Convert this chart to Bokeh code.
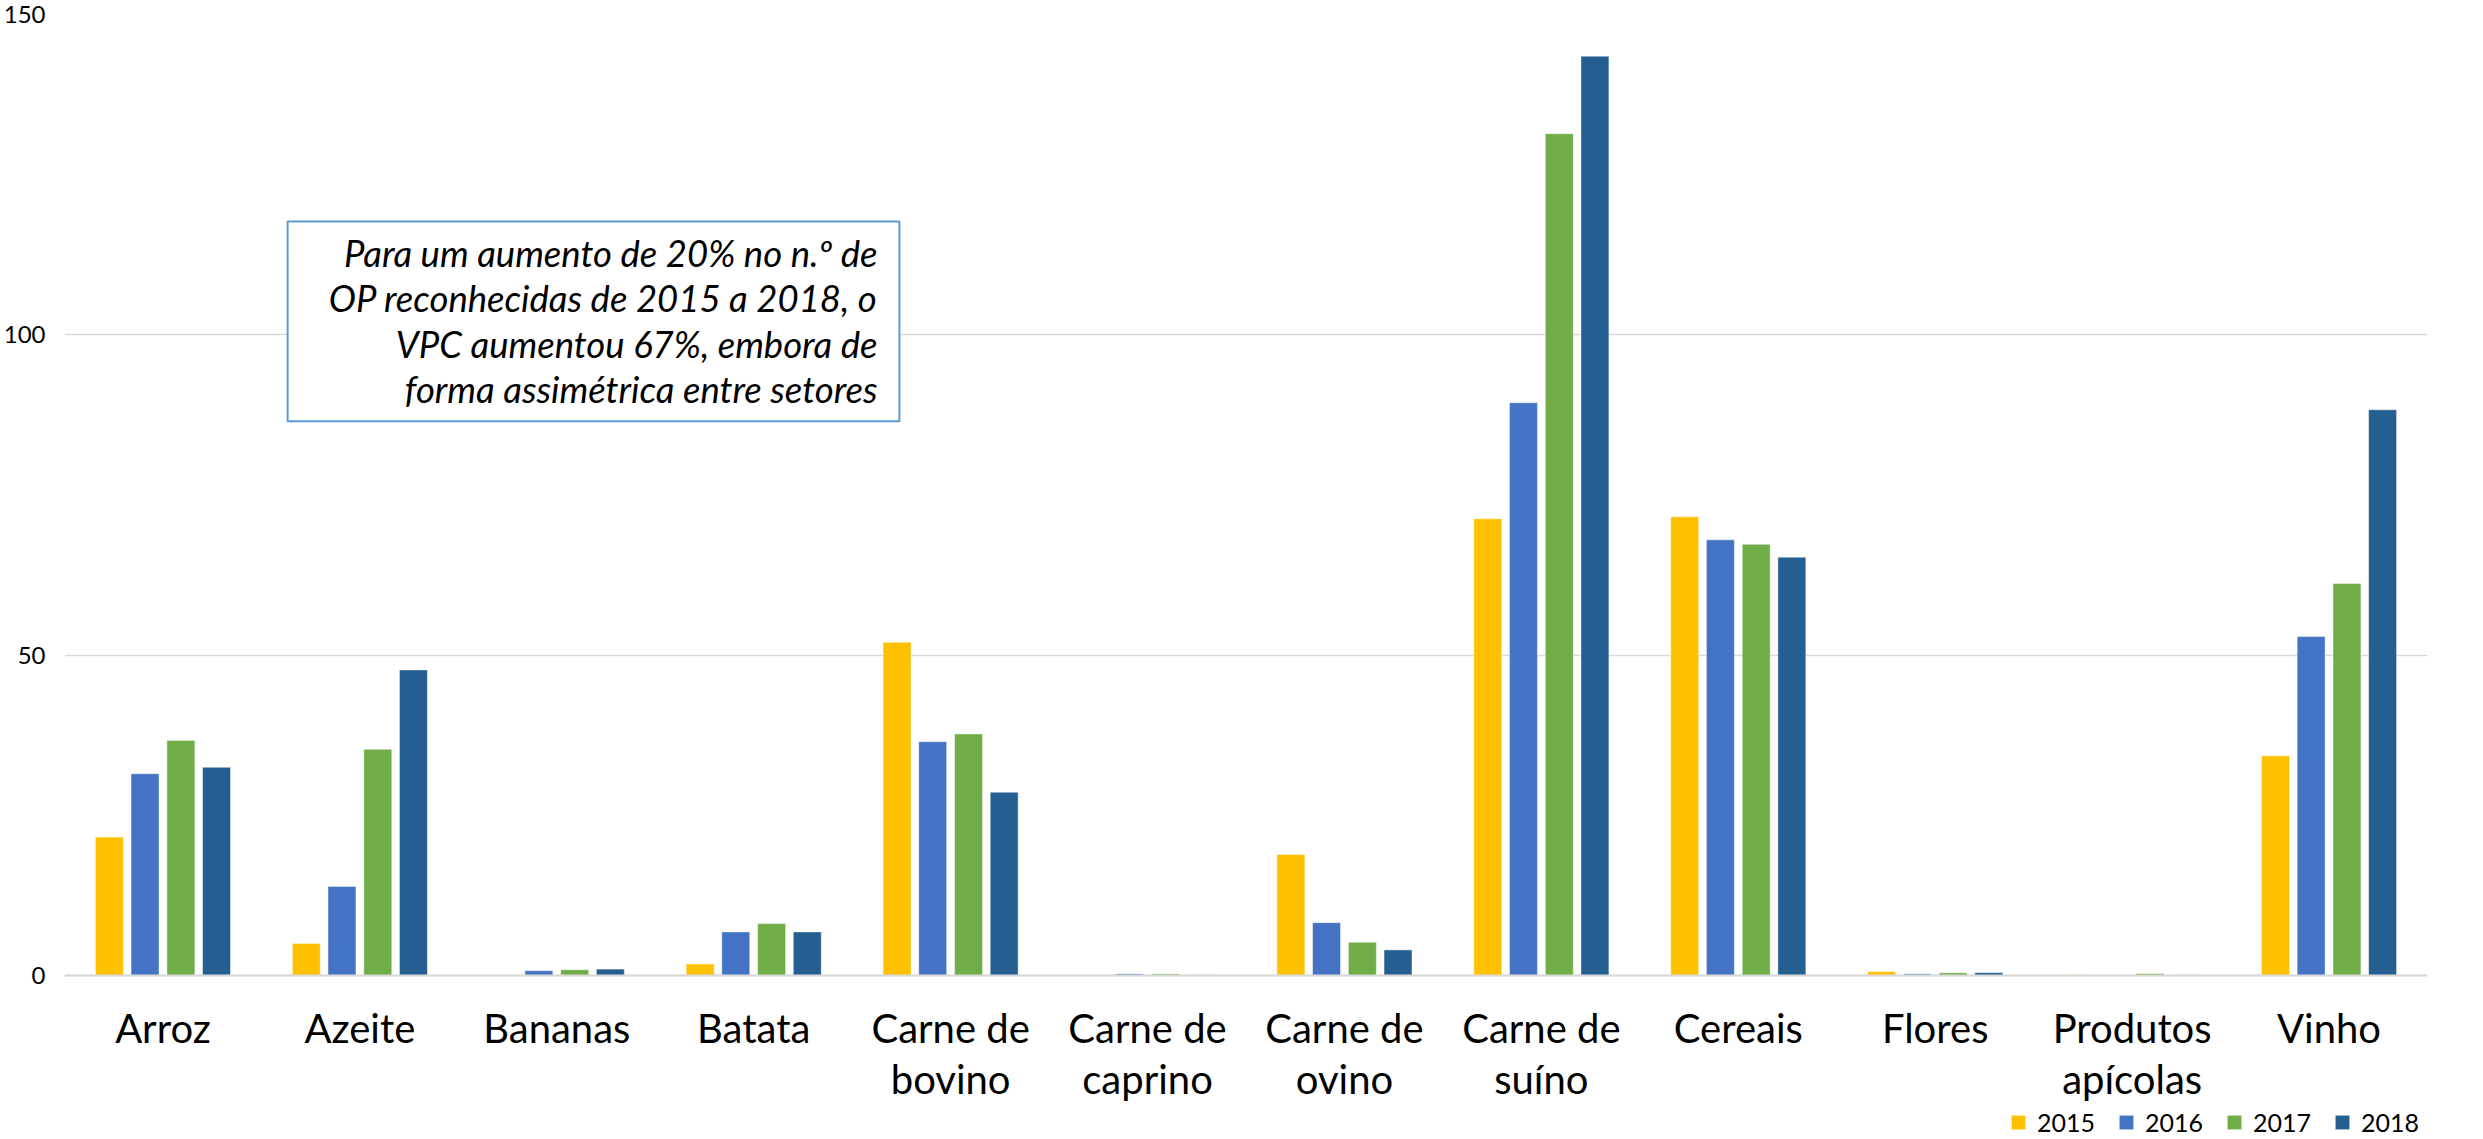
from bokeh.plotting import figure
from bokeh.models import (ColumnDataSource, FactorRange, Range1d, FixedTicker,
                          Legend, LegendItem, BoxAnnotation, Label)
from bokeh.transform import dodge
from bokeh.embed import file_html
from bokeh.resources import INLINE

# ---- data ----
categories = ["Arroz", "Azeite", "Bananas", "Batata", "Carne de\nbovino",
              "Carne de\ncaprino", "Carne de\novino", "Carne de\nsuíno",
              "Cereais", "Flores", "Produtos\napícolas", "Vinho"]
years = ["2015", "2016", "2017", "2018"]
v2015 = [21.6, 5.0, 0.0, 1.8, 52.0, 0.1, 18.9, 71.3, 71.6, 0.6, 0.12, 34.3]
v2016 = [31.5, 13.9, 0.75, 6.8, 36.5, 0.25, 8.25, 89.4, 68.0, 0.25, 0.05, 52.9]
v2017 = [36.7, 35.3, 0.9, 8.1, 37.7, 0.25, 5.2, 131.4, 67.3, 0.42, 0.3, 61.2]
v2018 = [32.5, 47.7, 1.0, 6.8, 28.6, 0.1, 4.0, 143.5, 65.3, 0.45, 0.1, 88.3]
y_ticks = [0, 50, 100, 150]
note_lines = ["Para um aumento de 20% no n.º de",
              "OP reconhecidas de 2015 a 2018, o",
              "VPC aumentou 67%, embora de",
              "forma assimétrica entre setores"]

colors = ["#FFC000", "#4472C4", "#70AD47", "#255E91"]
offsets = [-0.272, -0.091, 0.091, 0.272]
FONT = "Lato"

# layout: 150 -> 0 spans 961 px; the frame continues below 0 to leave room
# for the category labels and the legend
PX_PER_UNIT = 961 / 150
FRAME_H = 1123
Y_MIN = 150 - FRAME_H / PX_PER_UNIT

src = ColumnDataSource(dict(cat=categories, y2015=v2015, y2016=v2016,
                            y2017=v2017, y2018=v2018))

p = figure(x_range=FactorRange(factors=categories, range_padding=0),
           y_range=Range1d(Y_MIN, 150),
           frame_width=2363, frame_height=FRAME_H,
           output_backend="svg", toolbar_location=None,
           min_border_left=55, min_border_right=52, min_border_top=14,
           min_border_bottom=0)
p.outline_line_color = None
p.background_fill_color = "white"

renderers = []
for yr, col, off in zip(years, colors, offsets):
    r = p.vbar(x=dodge("cat", off, range=p.x_range), top="y" + yr, width=0.142,
               source=src, fill_color=col, line_color="white", line_alpha=0.45,
               line_width=1)
    renderers.append(r)

# axes
p.yaxis.ticker = FixedTicker(ticks=y_ticks)
p.yaxis.axis_line_color = None
p.yaxis.major_tick_line_color = None
p.yaxis.minor_tick_line_color = None
p.yaxis.major_label_standoff = 13
p.yaxis.major_label_text_font = FONT
p.yaxis.major_label_text_font_size = "24px"
p.yaxis.major_label_text_color = "black"

p.ygrid.ticker = FixedTicker(ticks=y_ticks)
p.ygrid.grid_line_color = "#D9D9D9"
p.ygrid.grid_line_width = 1.5
p.xgrid.grid_line_color = None

p.xaxis.fixed_location = 0
p.xaxis.axis_line_color = "#D9D9D9"
p.xaxis.axis_line_width = 2
p.xaxis.major_tick_line_color = None
p.xaxis.minor_tick_line_color = None
p.xaxis.major_label_standoff = 22
p.xaxis.major_label_text_font = FONT
p.xaxis.major_label_text_font_size = "40px"
p.xaxis.major_label_text_color = "black"
p.xaxis.major_label_text_line_height = 1.08
p.xaxis.major_label_orientation = "horizontal"

# legend
legend = Legend(items=[LegendItem(label=yr, renderers=[r]) for yr, r in zip(years, renderers)],
                orientation="horizontal", location=(1945, 0),
                glyph_width=18, glyph_height=18, label_standoff=10, spacing=22,
                padding=0, margin=0, border_line_color=None,
                background_fill_alpha=0, label_text_font=FONT,
                label_text_font_size="25px", label_text_color="black")
p.add_layout(legend)

# annotation box
box = BoxAnnotation(left=1.133, right=4.24, top=117.7, bottom=86.5,
                    fill_color="white", fill_alpha=1.0,
                    line_color="#5B9BD5", line_alpha=1.0, line_width=2)
p.add_layout(box)
note_y = [112.7, 105.8, 98.6, 91.5]
for txt, yy in zip(note_lines, note_y):
    p.add_layout(Label(x=4.129, y=yy, text=txt, text_align="right",
                       text_baseline="middle", text_font=FONT,
                       text_font_style="italic", text_font_size="36.5px",
                       text_color="black"))

open("out.html", "w").write(file_html(p, INLINE))
